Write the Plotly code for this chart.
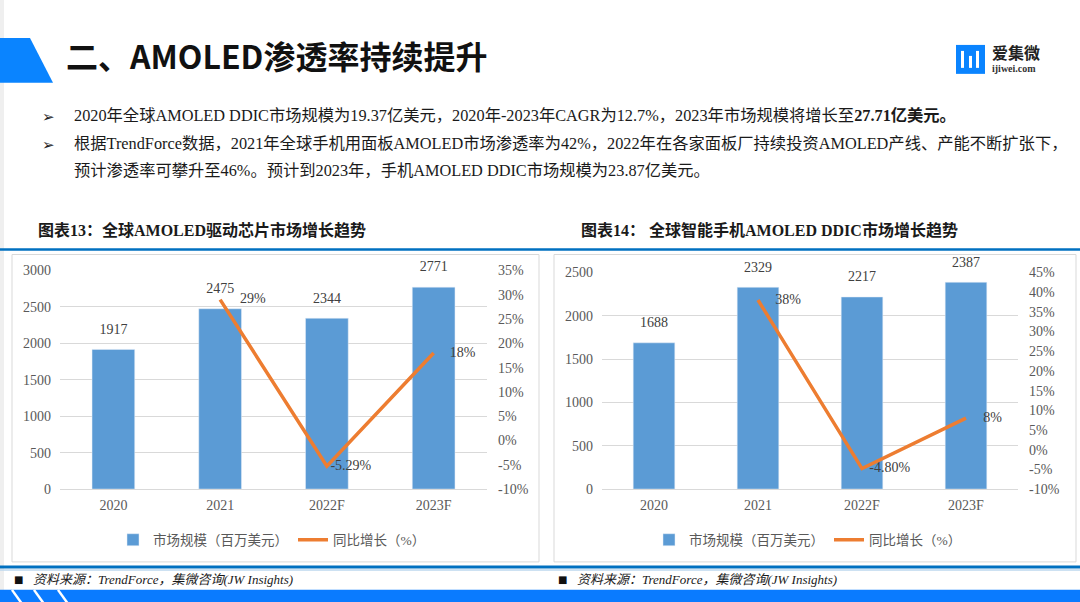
import plotly.graph_objects as go

# ---- data ----
years = ["2020", "2021", "2022F", "2023F"]

# chart 13: global AMOLED driver IC market (million USD) and YoY growth (%)
ddic_market = [1917, 2475, 2344, 2771]
ddic_growth = [None, 29, -5.29, 18]
ddic_growth_text = ["", "29%", "-5.29%", "18%"]

# chart 14: smartphone AMOLED DDIC market (million USD) and YoY growth (%)
phone_market = [1688, 2329, 2217, 2387]
phone_growth = [None, 38, -4.80, 8]
phone_growth_text = ["", "38%", "-4.80%", "8%"]

left_ticks = [0, 500, 1000, 1500, 2000, 2500, 3000]
left_pct_ticks = [-10, -5, 0, 5, 10, 15, 20, 25, 30, 35]
right_ticks = [0, 500, 1000, 1500, 2000, 2500]
right_pct_ticks = [-10, -5, 0, 5, 10, 15, 20, 25, 30, 35, 40, 45]

bar_name = "市场规模（百万美元）"
line_name = "同比增长（%）"

W, H = 1080, 602
SERIF = "Liberation Serif, Noto Sans CJK SC, serif"
SANS = "Noto Sans CJK SC, sans-serif"
BLUE_BAR = "#5B9BD5"
ORANGE = "#ED7D31"
GRID = "#D9D9D9"
TXT = "#595959"
LABEL_FONT = dict(family=SERIF, size=14, color="#404040")
NO_MARKER = dict(color="rgba(0,0,0,0)", line=dict(width=0, color="rgba(0,0,0,0)"))

# the page photo comes out slightly squeezed vertically; these undo it
Y_OFF, Y_SCALE = 6, 0.977


def px(x):
    return x / W


def py(y):
    return 1 - ((y - Y_OFF) / Y_SCALE) / H


fig = go.Figure()


def add_chart(values, growth, growth_text, growth_sizes, xa, ya, ya2, leg):
    fig.add_trace(go.Bar(
        x=years, y=values, name=bar_name, marker_color=BLUE_BAR,
        xaxis=xa, yaxis=ya, legend=leg, width=0.4,
    ))
    # value labels above the bars (invisible markers set the gap)
    fig.add_trace(go.Scatter(
        x=years, y=values, text=values, mode="markers+text",
        textposition="top center", textfont=LABEL_FONT, cliponaxis=False,
        marker=dict(size=18, **NO_MARKER), showlegend=False,
        hoverinfo="skip", xaxis=xa, yaxis=ya,
    ))
    fig.add_trace(go.Scatter(
        x=years, y=growth, name=line_name, mode="lines+markers+text",
        text=growth_text, textposition="middle right", cliponaxis=False,
        textfont=LABEL_FONT, line=dict(color=ORANGE, width=3.5),
        # invisible markers only used to push the labels away from the line
        marker=dict(size=growth_sizes, **NO_MARKER),
        xaxis=xa, yaxis=ya2, legend=leg,
    ))


add_chart(ddic_market, ddic_growth, ddic_growth_text, [0, 30, 4, 24],
          "x", "y", "y2", "legend")
add_chart(phone_market, phone_growth, phone_growth_text, [0, 26, 10, 26],
          "x2", "y3", "y4", "legend2")

tickfont = dict(family=SERIF, size=14, color=TXT)
y_bottom = py(489)

xcommon = dict(showgrid=False, showline=False, zeroline=False, ticks="",
               tickfont=tickfont, ticklabelstandoff=6, fixedrange=True)
ycommon = dict(tickfont=tickfont, ticks="", showline=False, fixedrange=True)

layout = dict(
    width=W, height=H, autosize=False,
    margin=dict(l=0, r=0, t=0, b=0),
    paper_bgcolor="white", plot_bgcolor="rgba(0,0,0,0)",
    barmode="group",
    xaxis=dict(domain=[px(60), px(487)], anchor="y", **xcommon),
    yaxis=dict(domain=[y_bottom, py(270)], range=[0, 3000],
               tickvals=left_ticks, gridcolor=GRID, zeroline=True,
               zerolinecolor=GRID, zerolinewidth=1, ticklabelstandoff=8,
               **ycommon),
    yaxis2=dict(overlaying="y", side="right", anchor="x", range=[-10, 35],
                tickvals=left_pct_ticks,
                ticktext=[f"{v}%" for v in left_pct_ticks],
                showgrid=False, zeroline=False, ticklabelstandoff=10,
                **ycommon),
    xaxis2=dict(domain=[px(602), px(1018)], anchor="y3", **xcommon),
    yaxis3=dict(domain=[y_bottom, py(272)], anchor="x2", range=[0, 2500],
                tickvals=right_ticks, gridcolor=GRID, zeroline=True,
                zerolinecolor=GRID, zerolinewidth=1, ticklabelstandoff=8,
                **ycommon),
    yaxis4=dict(overlaying="y3", side="right", anchor="x2", range=[-10, 45],
                tickvals=right_pct_ticks,
                ticktext=[f"{v}%" for v in right_pct_ticks],
                showgrid=False, zeroline=False, ticklabelstandoff=10,
                **ycommon),
    legend=dict(x=px(272), y=py(540), xanchor="center", yanchor="middle",
                orientation="h", font=dict(family=SERIF, size=13.5, color=TXT),
                bgcolor="rgba(0,0,0,0)"),
    legend2=dict(x=px(808), y=py(540), xanchor="center", yanchor="middle",
                 orientation="h", font=dict(family=SERIF, size=13.5, color=TXT),
                 bgcolor="rgba(0,0,0,0)"),
)

# ---- decorations ----
shapes = [
    # faint left page edge
    dict(type="rect", xref="paper", yref="paper", x0=0, x1=px(4), y0=-0.05, y1=1.05,
         fillcolor="#EFEFEF", line_width=0, layer="below"),
    # blue title tab
    dict(type="path", xref="paper", yref="paper",
         path=f"M 0,{py(37)} L {px(30)},{py(37)} L {px(53)},{py(82)} L 0,{py(82)} Z",
         fillcolor="#0A84FF", line_width=0),
    # logo square
    dict(type="rect", xref="paper", yref="paper", x0=px(956), x1=px(985),
         y0=py(73), y1=py(44), fillcolor="#0A84FF", line_width=0),
    dict(type="rect", xref="paper", yref="paper", x0=px(961), x1=px(964),
         y0=py(67), y1=py(50), fillcolor="white", line_width=0),
    dict(type="rect", xref="paper", yref="paper", x0=px(969), x1=px(972),
         y0=py(67), y1=py(55), fillcolor="white", line_width=0),
    dict(type="rect", xref="paper", yref="paper", x0=px(976), x1=px(979),
         y0=py(67), y1=py(50), fillcolor="white", line_width=0),
    # chart panels
    dict(type="rect", xref="paper", yref="paper", x0=px(12), x1=px(539),
         y0=py(562), y1=py(254), line=dict(color="#D9D9D9", width=1),
         fillcolor="rgba(0,0,0,0)", layer="below"),
    dict(type="rect", xref="paper", yref="paper", x0=px(554), x1=px(1076),
         y0=py(562), y1=py(254), line=dict(color="#D9D9D9", width=1),
         fillcolor="rgba(0,0,0,0)", layer="below"),
    # blue rule under chart titles
    dict(type="line", xref="paper", yref="paper", x0=0, x1=1,
         y0=py(249), y1=py(249), line=dict(color="#0070C0", width=2.5)),
    # blue rule above source
    dict(type="line", xref="paper", yref="paper", x0=0, x1=1,
         y0=py(567), y1=py(567), line=dict(color="#0070C0", width=3)),
    dict(type="line", xref="paper", yref="paper", x0=0, x1=1,
         y0=py(570), y1=py(570), line=dict(color="#BDD7EE", width=1.5)),
    # bottom band
    dict(type="rect", xref="paper", yref="paper", x0=0, x1=1,
         y0=-0.05, y1=py(590), fillcolor="#0A7BFF", line_width=0),
]
for sx in [12, 34, 58]:
    shapes.append(dict(type="line", xref="paper", yref="paper",
                       x0=px(sx), x1=px(sx + 10), y0=py(590), y1=py(604),
                       line=dict(color="white", width=2.5)))
layout["shapes"] = shapes


def note(x, y, text, size, family=SERIF, color="#1A1A1A", xanchor="left"):
    return dict(x=px(x), y=py(y), xref="paper", yref="paper", text=text,
                showarrow=False, xanchor=xanchor, yanchor="middle",
                font=dict(family=family, size=size, color=color))


annotations = [
    note(64, 54, "<b>二、AMOLED渗透率持续提升</b>", 32, family=SANS, color="#111111"),
    note(990, 52, "<b>爱集微</b>", 16, color="#222222"),
    note(990, 68, "<b>ijiwei.com</b>", 10, color="#333333"),
    note(40, 116, "➢", 15, family="DejaVu Sans", color="#222222"),
    note(40, 144, "➢", 15, family="DejaVu Sans", color="#222222"),
    note(72, 115, "2020年全球AMOLED DDIC市场规模为19.37亿美元，2020年-2023年CAGR为12.7%，"
                  "2023年市场规模将增长至<b>27.71亿美元。</b>", 16.3),
    note(72, 143, "根据TrendForce数据，2021年全球手机用面板AMOLED市场渗透率为42%，"
                  "2022年在各家面板厂持续投资AMOLED产线、产能不断扩张下，", 16.3),
    note(72, 170, "预计渗透率可攀升至46%。预计到2023年，手机AMOLED DDIC市场规模为23.87亿美元。", 16.3),
    note(36, 229, "<b>图表13：全球AMOLED驱动芯片市场增长趋势</b>", 16),
    note(579, 229, "<b>图表14： 全球智能手机AMOLED DDIC市场增长趋势</b>", 16),
    note(12, 580, "■", 10, family="DejaVu Sans", color="#111111"),
    note(31, 580, "<i>资料来源：TrendForce，集微咨询(JW Insights)</i>", 13),
    note(556, 580, "■", 10, family="DejaVu Sans", color="#111111"),
    note(575, 580, "<i>资料来源：TrendForce，集微咨询(JW Insights)</i>", 13),
]
layout["annotations"] = annotations

fig.update_layout(layout)
fig.write_html(
    "out.html",
    config={"displayModeBar": False},
    post_script=(
        "document.documentElement.style.margin='0px';"
        "document.documentElement.style.overflow='hidden';"
        "document.body.style.margin='0px';"
        "document.body.style.overflow='hidden';"
    ),
)
